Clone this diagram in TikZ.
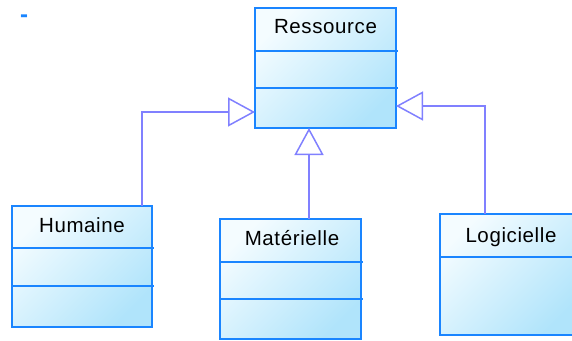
\documentclass[tikz,border=0pt]{standalone}
\usepackage{fontspec}
\setmainfont{Liberation Sans}
\usetikzlibrary{arrows.meta,calc}
\definecolor{clsborder}{RGB}{26,133,255}
\definecolor{clslight}{RGB}{244,252,255}
\definecolor{clsdark}{RGB}{176,228,251}
\definecolor{genline}{RGB}{128,128,255}
\tikzset{
  cls/.style={draw=clsborder, line width=1.6pt, inner sep=0pt, outer sep=0pt,
    anchor=north west, minimum width=141pt,
    top color=clslight, bottom color=clsdark, shading angle=45},
  divider/.style={draw=clsborder, line width=1.6pt},
  clsname/.style={anchor=base, inner sep=0pt, font=\fontsize{20.5}{24}\selectfont\addfontfeature{LetterSpace=3}},
  gen/.style={draw=genline, line width=1.5pt,
    -{Triangle[open, length=27pt, width=29pt, line width=1.5pt]}}
}
\begin{document}
\begin{tikzpicture}[x=1pt,y=-1pt]
\useasboundingbox (0,0) rectangle (572,340);
% dash at top left
\node[text=clsborder, font=\fontsize{24}{26}\selectfont\bfseries, inner sep=0pt, anchor=base] (dash) at (24,22) {-};
% Ressource
\node[cls, minimum height=120pt] (ress) at (255,8) {};
\draw[divider] ($(ress.north west)+(0,43)$) -- ($(ress.north east)+(2,43)$);
\draw[divider] ($(ress.north west)+(0,80)$) -- ($(ress.north east)+(2,80)$);
\node[clsname] (tress) at (325.5,33) {Ressource};
% Humaine
\node[cls, minimum height=121pt, minimum width=140pt] (hum) at (12,206) {};
\draw[divider] ($(hum.north west)+(0,42)$) -- ($(hum.north east)+(2,42)$);
\draw[divider] ($(hum.north west)+(0,80)$) -- ($(hum.north east)+(2,80)$);
\node[clsname] (thum) at (82,232) {Humaine};
% Materielle
\node[cls, minimum height=120pt] (mat) at (220,219) {};
\draw[divider] ($(mat.north west)+(0,43)$) -- ($(mat.north east)+(2,43)$);
\draw[divider] ($(mat.north west)+(0,80)$) -- ($(mat.north east)+(2,80)$);
\node[clsname] (tmat) at (292,245) {Matérielle};
% Logicielle
\node[cls, minimum height=121pt] (log) at (440,214) {};
\draw[divider] ($(log.north west)+(0,43)$) -- ($(log.north east)+(2,43)$);
\node[clsname] (tlog) at (511,242) {Logicielle};
% generalisations
\draw[gen] ([xshift=-10pt]hum.north east) |- ([yshift=16pt]ress.south west);
\draw[gen] ([xshift=18.5pt]mat.north) -- ([xshift=18.5pt]mat.north |- ress.south);
\draw[gen] ([xshift=-25.5pt]log.north) |- ([yshift=22pt]ress.south east);
\end{tikzpicture}
\end{document}
